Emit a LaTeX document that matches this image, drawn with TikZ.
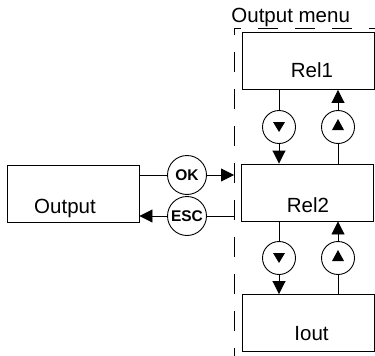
\documentclass[tikz,border=0pt]{standalone}
\usepackage{fontspec}
\setmainfont{Liberation Sans}
\usetikzlibrary{arrows.meta}
\begin{document}
\begin{tikzpicture}[x=1pt,y=-1pt,
  line width=0.9pt,
  box/.style={draw, rectangle, minimum width=132pt, minimum height=57pt, inner sep=0pt},
  lbl/.style={inner sep=0pt, font=\fontsize{20.5}{24}\selectfont},
  btn/.style={draw, circle, minimum size=39pt, inner sep=0pt, font=\bfseries\fontsize{15.5}{18}\selectfont},
  arw/.style={draw, circle, minimum size=33pt, inner sep=0pt},
  frame/.style={dash pattern=on 20pt off 17pt, dash phase=13pt},
  tip/.style={-{Triangle[length=13pt,width=13pt]}}
]
\useasboundingbox (0,0) rectangle (375,356);
% dashed group frame
\coordinate (mtl) at (234,28);
\coordinate (mtr) at (376,28);
\coordinate (mbl) at (234,357);
\draw[frame] (mtl) -- (mtr);
\draw[frame] (mtl) -- (mbl);
\node[lbl, anchor=base west] (title) at (231,23) {Output menu};
% boxes
\node[box] (rel1) at (308,61) {};
\node[box] (rel2) at (307.5,192.5) {};
\node[box] (iout) at (308.5,323) {};
\node[box] (out) at (73,194) {};
\node[lbl, anchor=base] (rel1t) at (312,77) {Rel1};
\node[lbl, anchor=base] (rel2t) at (308,212) {Rel2};
\node[lbl, anchor=base] (ioutt) at (311.5,340) {Iout};
\node[lbl, anchor=base] (outt) at (65,213) {Output};
% arrow circles
\node[arw] (d1) at (279,127) {};
\node[arw] (u1) at (338,127) {};
\node[arw] (d2) at (279,258) {};
\node[arw] (u2) at (338,258) {};
\foreach \n in {d1,d2}{
  \fill ([shift={(-6,-5)}]\n.center) -- ([shift={(6,-5)}]\n.center) -- ([shift={(0,5)}]\n.center) -- cycle;
}
\foreach \n in {u1,u2}{
  \fill ([shift={(-6,3)}]\n.center) -- ([shift={(6,3)}]\n.center) -- ([shift={(0,-8)}]\n.center) -- cycle;
}
% buttons
\node[btn] (ok) at (187,175) {OK};
\node[btn] (esc) at (187,216) {ESC};
% vertical connectors
\draw (rel1.south -| d1) -- (d1.north);
\draw[tip] (d1.south) -- (d1 |- rel2.north);
\draw (rel2.north -| u1) -- (u1.south);
\draw[tip] (u1.north) -- (u1 |- rel1.south);
\draw (rel2.south -| d2) -- (d2.north);
\draw[tip] (d2.south) -- (d2 |- iout.north);
\draw (iout.north -| u2) -- (u2.south);
\draw[tip] (u2.north) -- (u2 |- rel2.south);
% horizontal connectors
\draw (out.east |- ok) -- (ok.west);
\draw[tip] (ok.east) -- (ok -| mtl);
\draw (esc -| mtl) -- (esc.east);
\draw[tip] (esc.west) -- (esc -| out.east);
\end{tikzpicture}
\end{document}
